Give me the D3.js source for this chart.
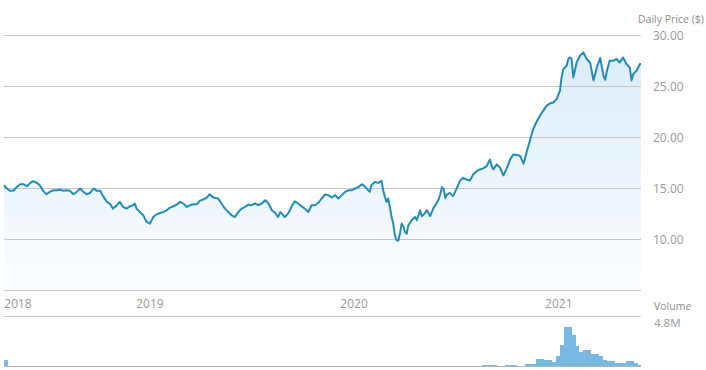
<!DOCTYPE html>
<html lang="en">
<head>
    <meta charset="utf-8">
    <title>Daily Price</title>
    <style>
        html, body { margin: 0; padding: 0; background: #fff; }
        svg text { font-family: "Open Sans", sans-serif; fill: #999; }
    </style>
</head>
<body>
    <svg id="chart" width="706" height="370"></svg>
    <script src="https://cdn.jsdelivr.net/npm/d3@7"></script>
    <script>
        // price readings (date, close)
        const priceDates = [
            "2018-04-15","2018-04-20","2018-04-26","2018-05-02","2018-05-08","2018-05-14","2018-05-20","2018-05-26",
            "2018-06-01","2018-06-06","2018-06-13","2018-06-18","2018-06-24","2018-06-30","2018-07-06","2018-07-12",
            "2018-07-18","2018-07-24","2018-07-30","2018-08-05","2018-08-11","2018-08-17","2018-08-23","2018-08-29",
            "2018-09-04","2018-09-10","2018-09-16","2018-09-22","2018-09-28","2018-10-04","2018-10-10","2018-10-16",
            "2018-10-22","2018-10-27","2018-11-03","2018-11-08","2018-11-14","2018-11-20","2018-11-26","2018-12-02",
            "2018-12-05","2018-12-08","2018-12-14","2018-12-20","2018-12-26","2019-01-01","2019-01-07","2019-01-13",
            "2019-01-19","2019-01-25","2019-01-31","2019-02-06","2019-02-12","2019-02-18","2019-02-24","2019-03-02",
            "2019-03-08","2019-03-14","2019-03-20","2019-03-26","2019-03-31","2019-04-06","2019-04-12","2019-04-18",
            "2019-04-24","2019-05-03","2019-05-09","2019-05-15","2019-05-21","2019-05-27","2019-06-02","2019-06-08",
            "2019-06-14","2019-06-20","2019-06-26","2019-07-02","2019-07-08","2019-07-14","2019-07-20","2019-07-26",
            "2019-08-01","2019-08-07","2019-08-13","2019-08-18","2019-08-22","2019-08-25","2019-08-30","2019-09-05",
            "2019-09-11","2019-09-17","2019-09-23","2019-09-29","2019-10-05","2019-10-11","2019-10-17","2019-10-23",
            "2019-10-29","2019-11-04","2019-11-10","2019-11-16","2019-11-22","2019-11-28","2019-12-04","2019-12-10",
            "2019-12-16","2019-12-22","2019-12-28","2020-01-03","2020-01-09","2020-01-15","2020-01-21","2020-01-26",
            "2020-01-29","2020-02-01","2020-02-07","2020-02-13","2020-02-19","2020-02-22","2020-02-25","2020-02-28",
            "2020-03-02","2020-03-05","2020-03-08","2020-03-11","2020-03-14","2020-03-17","2020-03-20","2020-03-23",
            "2020-03-26","2020-03-29","2020-04-01","2020-04-04","2020-04-07","2020-04-13","2020-04-19","2020-04-22",
            "2020-04-25","2020-04-28","2020-05-01","2020-05-07","2020-05-10","2020-05-16","2020-05-22","2020-05-28",
            "2020-05-31","2020-06-03","2020-06-06","2020-06-09","2020-06-12","2020-06-15","2020-06-20","2020-06-26",
            "2020-07-03","2020-07-08","2020-07-14","2020-07-20","2020-07-26","2020-08-01","2020-08-07","2020-08-13",
            "2020-08-19","2020-08-25","2020-08-31","2020-09-03","2020-09-06","2020-09-12","2020-09-18","2020-09-24",
            "2020-09-30","2020-10-06","2020-10-12","2020-10-18","2020-10-24","2020-10-30","2020-11-05","2020-11-11",
            "2020-11-16","2020-11-23","2020-11-28","2020-12-04","2020-12-10","2020-12-16","2020-12-22","2020-12-28",
            "2021-01-03","2021-01-06","2021-01-09","2021-01-15","2021-01-18","2021-01-21","2021-01-24","2021-01-27",
            "2021-02-02","2021-02-08","2021-02-14","2021-02-20","2021-02-26","2021-03-04","2021-03-10","2021-03-16",
            "2021-03-22","2021-03-25","2021-03-28","2021-04-02","2021-04-08","2021-04-14","2021-04-20","2021-04-26",
            "2021-05-02","2021-05-08","2021-05-11","2021-05-14","2021-05-20","2021-05-26","2021-05-28"
        ];
        const prices = [
            15.32,15.00,14.77,14.80,15.16,15.42,15.42,15.22,
            15.55,15.72,15.55,15.32,14.77,14.44,14.67,14.83,
            14.83,14.90,14.77,14.83,14.77,14.44,14.67,15.00,
            14.67,14.44,14.57,15.00,14.77,14.77,14.18,13.69,
            13.46,13.03,13.36,13.69,13.19,13.03,13.26,13.36,
            13.52,13.03,12.70,12.37,11.72,11.56,12.20,12.47,
            12.60,12.70,12.86,13.13,13.26,13.42,13.69,13.52,
            13.19,13.36,13.46,13.46,13.79,13.92,14.08,14.44,
            14.11,14.02,13.53,13.03,12.70,12.37,12.20,12.70,
            13.03,13.20,13.43,13.36,13.53,13.36,13.53,13.85,
            13.53,12.87,12.60,12.20,12.70,12.54,12.20,12.54,
            13.20,13.75,13.53,13.26,13.03,12.70,13.36,13.36,
            13.60,14.02,14.41,14.35,14.12,14.35,14.02,14.35,
            14.67,14.83,14.83,15.00,15.16,15.42,15.16,14.83,
            14.67,15.32,15.65,15.55,15.75,14.83,14.18,13.69,
            14.02,13.20,12.20,11.56,10.41,9.90,9.90,10.57,
            11.56,11.30,10.74,10.57,11.40,11.89,12.20,11.90,
            12.37,12.87,12.27,12.60,12.87,12.30,13.10,13.59,
            13.92,14.41,15.13,15.00,14.08,14.41,14.57,14.25,
            15.07,15.72,16.05,15.89,15.79,16.38,16.70,16.87,
            16.97,17.20,17.85,17.20,16.87,17.36,17.03,16.28,
            16.97,17.85,18.34,18.28,18.18,17.43,18.67,19.82,
            20.80,21.62,22.11,22.61,23.10,23.33,23.43,23.75,
            24.57,25.89,26.70,27.03,27.69,27.85,27.69,25.90,
            27.36,28.02,28.34,27.69,27.36,25.60,26.87,27.79,
            26.05,25.65,26.54,27.52,27.52,27.69,27.36,27.85,
            27.20,26.87,25.60,26.21,26.54,27.20,27.20
        ];

        // weekly volume in millions, first week starting 2018-04-15
        const volumeStart = "2018-04-15";
        const volumes = [
            0.72,0.05,0.02,0.02,0.02,0.02,0.02,0.02,0.02,0.02,0.02,0.02,0.02,0.02,0.02,0.02,0.02,0.02,0.02,0.02,
            0.02,0.02,0.02,0.02,0.02,0.02,0.02,0.02,0.02,0.02,0.02,0.02,0.02,0.02,0.02,0.02,0.02,0.02,0.02,0.02,
            0.02,0.02,0.02,0.02,0.02,0.02,0.02,0.02,0.02,0.02,0.02,0.02,0.02,0.02,0.02,0.02,0.02,0.02,0.02,0.02,
            0.02,0.02,0.02,0.02,0.02,0.02,0.02,0.02,0.02,0.02,0.02,0.02,0.02,0.02,0.02,0.02,0.02,0.02,0.02,0.02,
            0.02,0.02,0.02,0.02,0.02,0.02,0.02,0.02,0.02,0.02,0.02,0.02,0.02,0.02,0.02,0.02,0.02,0.02,0.02,0.02,
            0.02,0.02,0.02,0.02,0.02,0.02,0.02,0.02,0.02,0.02,0.02,0.02,0.02,0.02,0.02,0.02,0.02,0.02,0.02,0.02,
            0.02,0.02,0.12,0.12,0.12,0.12,0.04,0.04,0.12,0.12,0.12,0.04,0.04,0.30,0.30,0.30,0.80,0.80,0.78,0.78,
            0.50,1.20,2.50,4.80,4.80,3.80,2.40,1.70,1.90,1.90,1.50,1.50,1.20,0.70,0.65,0.65,0.36,0.36,0.36,0.66,
            0.66,0.36,0.18
        ];

        const priceTicks = [10, 15, 20, 25, 30];
        const yearTicks = ["2018-01-01", "2019-01-01", "2020-01-01", "2021-01-01"];
        const xDomain = ["2018-04-15", "2021-05-28"];

        const parse = d3.timeParse("%Y-%m-%d");
        const svg = d3.select("#chart");

        const left = 4, right = 641;
        const plotTop = 35.5, plotBottom = 290.5;
        const bandBottom = 316.5, volBottom = 366.5;

        const x = d3.scaleTime()
            .domain(xDomain.map(parse))
            .range([left, right]);
        const y = d3.scaleLinear()
            .domain([5, 30])
            .range([plotBottom, plotTop]);
        const yVol = d3.scaleLinear()
            .domain([0, 4.8])
            .range([volBottom - 0.5, 326.5]);

        const data = priceDates.map((d, i) => ({ date: parse(d), value: prices[i] }));

        const defs = svg.append("defs");
        const grad = defs.append("linearGradient")
            .attr("id", "fill")
            .attr("x1", 0).attr("y1", 0).attr("x2", 0).attr("y2", 1);
        grad.append("stop").attr("offset", "0%").attr("stop-color", "#dcecf7");
        grad.append("stop").attr("offset", "100%").attr("stop-color", "#fbfdff");

        // area under the price line
        svg.append("path")
            .datum(data)
            .attr("fill", "url(#fill)")
            .attr("d", d3.area()
                .x(d => x(d.date))
                .y0(plotBottom)
                .y1(d => y(d.value)));

        // grid lines
        svg.append("g")
            .selectAll("line")
            .data(priceTicks)
            .join("line")
                .attr("x1", left)
                .attr("x2", right)
                .attr("y1", d => Math.floor(y(d)) + 0.5)
                .attr("y2", d => Math.floor(y(d)) + 0.5)
                .attr("stroke", "#c6c6c6");

        svg.append("g")
            .selectAll("line")
            .data([plotBottom, bandBottom])
            .join("line")
                .attr("x1", left)
                .attr("x2", right)
                .attr("y1", d => d)
                .attr("y2", d => d)
                .attr("stroke", "#c6c6c6");

        // price line
        svg.append("path")
            .datum(data)
            .attr("fill", "none")
            .attr("stroke", "#228bb8")
            .attr("stroke-width", 2)
            .attr("stroke-linejoin", "round")
            .attr("d", d3.line()
                .x(d => x(d.date))
                .y(d => y(d.value)));

        // price labels
        svg.append("g")
            .selectAll("text")
            .data(priceTicks)
            .join("text")
                .attr("x", 653)
                .attr("y", d => y(d) + 4.5)
                .style("font-size", "12px")
                .text(d => d3.format(".2f")(d));

        svg.append("text")
            .attr("x", 638)
            .attr("y", 22.5)
            .style("font-size", "10.5px")
            .style("fill", "#8c8c8c")
            .text("Daily Price ($)");

        // year labels
        svg.append("g")
            .selectAll("text")
            .data(yearTicks.map(parse))
            .join("text")
                .attr("x", d => Math.max(x(d), left + 14))
                .attr("y", 308)
                .attr("text-anchor", "middle")
                .style("font-size", "12px")
                .text(d => d3.timeFormat("%Y")(d));

        // volume bars
        const v0 = parse(volumeStart);
        svg.append("g")
            .selectAll("rect")
            .data(volumes)
            .join("rect")
                .attr("x", (d, i) => x(d3.timeDay.offset(v0, i * 7)))
                .attr("width", (d, i) => Math.min(x(d3.timeDay.offset(v0, i * 7 + 7)), right) - x(d3.timeDay.offset(v0, i * 7)))
                .attr("y", d => yVol(d))
                .attr("height", d => yVol(0) - yVol(d))
                .attr("fill", "#79b8e0")
                .attr("shape-rendering", "crispEdges");

        svg.append("line")
            .attr("x1", left)
            .attr("x2", right)
            .attr("y1", volBottom)
            .attr("y2", volBottom)
            .attr("stroke", "#b3b3b3");

        svg.append("text")
            .attr("x", 654)
            .attr("y", 310)
            .style("font-size", "10.5px")
            .style("fill", "#8c8c8c")
            .text("Volume");

        svg.append("text")
            .attr("x", 654)
            .attr("y", 327)
            .style("font-size", "11.5px")
            .text("4.8M");
    </script>
</body>
</html>
